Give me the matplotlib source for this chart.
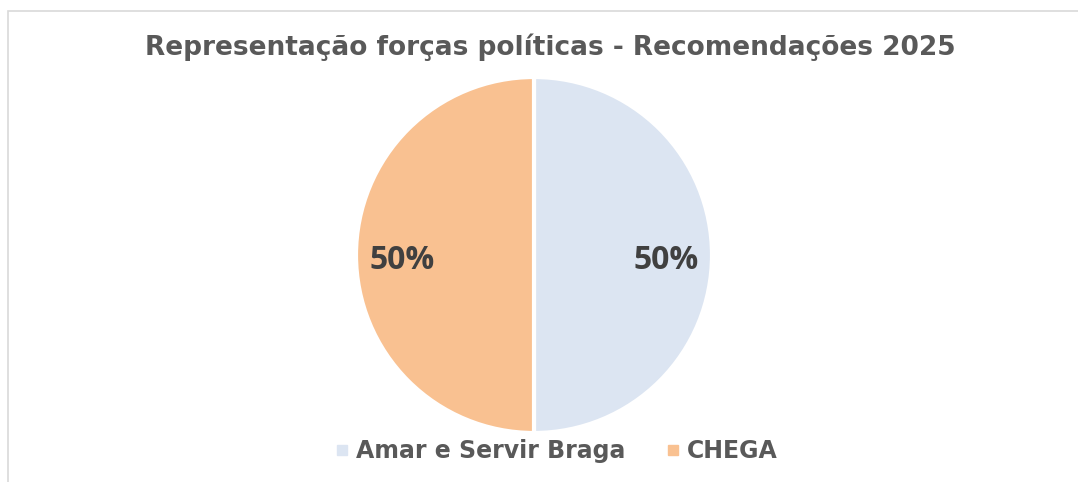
import matplotlib
matplotlib.use("Agg")
import matplotlib.pyplot as plt
from matplotlib.lines import Line2D
from matplotlib.patches import Rectangle

title = "Representação forças políticas - Recomendações 2025"
labels = ["Amar e Servir Braga", "CHEGA"]
values = [50, 50]
colors = ["#DCE5F2", "#F9C191"]

W, H = 1078, 482
fig = plt.figure(figsize=(W / 100, H / 100), dpi=100)
fig.patch.set_facecolor("white")

# border
fig.add_artist(Rectangle((8 / W, -0.05), (W + 20) / W, (H - 11) / H + 0.05,
                         transform=fig.transFigure, fill=False,
                         edgecolor="#D9D9D9", linewidth=1.2))

cx, cy, r = 534, 255, 178
ax = fig.add_axes([(cx - r) / W, (H - cy - r) / H, 2 * r / W, 2 * r / H])
wedges, texts, autotexts = ax.pie(
    values, colors=colors, startangle=90, counterclock=False,
    autopct="%1.0f%%", pctdistance=0.74,
    wedgeprops=dict(edgecolor="white", linewidth=3),
    textprops=dict(color="#404040", fontsize=23, fontweight="bold",
                   family="Open Sans"))
for t in autotexts:
    x, y = t.get_position()
    t.set_position((x, y - 0.03))
ax.set_xlim(-1.0, 1.0)
ax.set_ylim(-1.0, 1.0)
ax.set_aspect("equal")
ax.axis("off")

fig.text(550 / W, 1 - 47 / H, title, ha="center", va="center",
         fontsize=19, fontweight="bold", color="#595959", family="DejaVu Sans")

handles = [Line2D([0], [0], marker="s", linestyle="none", markersize=7,
                  markerfacecolor=c, markeredgecolor=c) for c in colors]
fig.legend(handles, labels, loc="center", bbox_to_anchor=(555 / W, 1 - 451 / H),
           ncol=2, frameon=False, handletextpad=0.2, columnspacing=1.6,
           prop=dict(family="DejaVu Sans", weight="bold", size=17),
           labelcolor="#595959", handlelength=0.8)

fig.savefig("out.png", dpi=100, facecolor="white")
